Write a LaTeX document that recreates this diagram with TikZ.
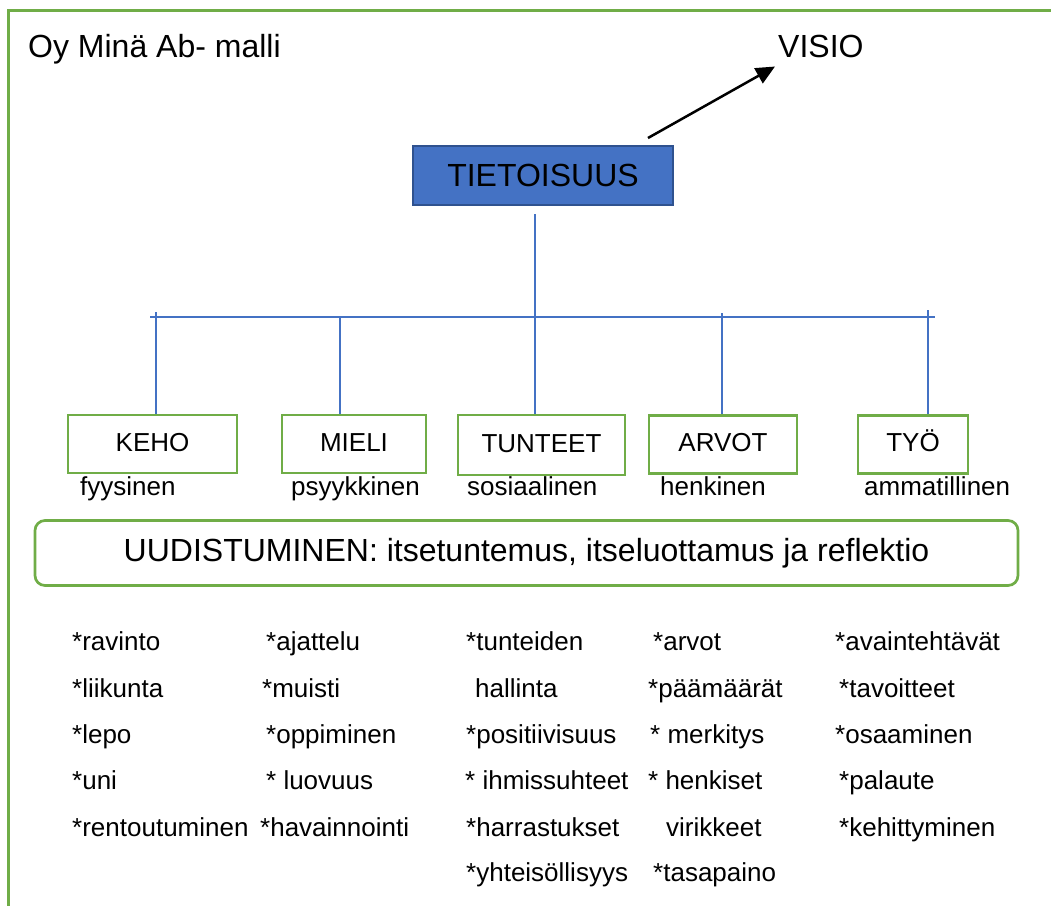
\documentclass[tikz,border=0pt]{standalone}
\usepackage{fontspec}
\setmainfont{Liberation Sans}
\usetikzlibrary{arrows.meta}
\definecolor{frameGreen}{HTML}{70AD47}
\definecolor{fillBlue}{HTML}{4472C4}
\definecolor{edgeBlue}{HTML}{2F528F}

\begin{document}
\begin{tikzpicture}[x=1pt, y=-1pt,
    lbl/.style={inner sep=0pt, font=\fontsize{26}{30}\selectfont, text height=19pt, text depth=5pt},
    item/.style={lbl, anchor=base west},
    bigtxt/.style={inner sep=0pt, font=\fontsize{32}{38}\selectfont},
    catbox/.style={lbl, draw=frameGreen, line width=2.7pt, minimum height=58pt},
    treeline/.style={fillBlue, line width=1.3pt}]
  \useasboundingbox (0,0) rectangle (1051,905);

  %--- outer frame (only left and top edges show) ---
  \draw[frameGreen, line width=3pt] (8,920) -- (8,10.5) -- (1060,10.5);

  \node[bigtxt, anchor=base west] (title) at (28,57) {Oy Minä Ab- malli};
  \node[bigtxt, anchor=base west] (visio) at (778,57) {VISIO};

  %--- top box ---
  \node[bigtxt, fill=fillBlue, draw=edgeBlue, line width=2pt,
        minimum width=260pt, minimum height=59pt] (tieto) at (543,175.5) {TIETOISUUS};
  \draw[line width=2.5pt, -{Triangle[length=19pt,width=17pt]}]
      ([xshift=-26pt,yshift=7pt]tieto.north east) -- ([xshift=-3pt,yshift=-9pt]visio.south west);

  %--- category boxes ---
  \node[catbox, minimum width=169pt] (keho)    at (152.5,444) {KEHO};
  \node[catbox, minimum width=144pt] (mieli)   at (354,444)   {MIELI};
  \node[catbox, minimum width=167pt, minimum height=60pt] (tunteet) at (541.5,445) {TUNTEET};
  \node[catbox, minimum width=148pt] (arvot)   at (723,444.5) {ARVOT};
  \node[catbox, minimum width=110pt] (tyo)     at (913,444.5) {TYÖ};

  %--- tree lines ---
  \coordinate (hubL) at (150,317);
  \coordinate (hubR) at (935,317);
  \draw[treeline] ([xshift=-8pt,yshift=-8pt]tieto.south) -- (535,0 |- tunteet.north);
  \draw[treeline] (hubL) -- (hubR);
  \draw[treeline] (156,312) -- (156,0 |- keho.north);
  \draw[treeline] (340,317) -- (340,0 |- mieli.north);
  \draw[treeline] (722,313) -- (722,0 |- arvot.north);
  \draw[treeline] (928,310) -- (928,0 |- tyo.north);

  %--- sub labels ---
  \node[item] (fyys)  at (80,495)  {fyysinen};
  \node[item] (psyk)  at (291,495) {psyykkinen};
  \node[item] (sos)   at (467,495) {sosiaalinen};
  \node[item] (henk)  at (660,495) {henkinen};
  \node[item] (ammat) at (864,495) {ammatillinen};

  %--- renewal bar ---
  \node[draw=frameGreen, line width=2.7pt, rounded corners=10pt,
        minimum width=983pt, minimum height=65pt, inner sep=0pt,
        font=\fontsize{32}{38}\selectfont] (uudis) at (526.5,553)
        {UUDISTUMINEN: itsetuntemus, itseluottamus ja reflektio};

  %--- lists ---
  \node[item] (k1) at (72,650) {*ravinto};
  \node[item] (k2) at (72,697) {*liikunta};
  \node[item] (k3) at (72,743) {*lepo};
  \node[item] (k4) at (72,789) {*uni};
  \node[item] (k5) at (72,836) {*rentoutuminen};

  \node[item] (m1) at (266,650) {*ajattelu};
  \node[item] (m2) at (262,697) {*muisti};
  \node[item] (m3) at (266,743) {*oppiminen};
  \node[item] (m4) at (266,789) {* luovuus};
  \node[item] (m5) at (260,836) {*havainnointi};

  \node[item] (t1) at (466,650) {*tunteiden};
  \node[item] (t2) at (475,697) {hallinta};
  \node[item] (t3) at (466,743) {*positiivisuus};
  \node[item] (t4) at (465,789) {* ihmissuhteet};
  \node[item] (t5) at (466,836) {*harrastukset};
  \node[item] (t6) at (466,881) {*yhteisöllisyys};

  \node[item] (a1) at (653,650) {*arvot};
  \node[item] (a2) at (648,697) {*päämäärät};
  \node[item] (a3) at (650,743) {* merkitys};
  \node[item] (a4) at (648,789) {* henkiset};
  \node[item] (a5) at (666,836) {virikkeet};
  \node[item] (a6) at (653,881) {*tasapaino};

  \node[item] (y1) at (835,650) {*avaintehtävät};
  \node[item] (y2) at (839,697) {*tavoitteet};
  \node[item] (y3) at (835,743) {*osaaminen};
  \node[item] (y4) at (839,789) {*palaute};
  \node[item] (y5) at (839,836) {*kehittyminen};
\end{tikzpicture}
\end{document}
